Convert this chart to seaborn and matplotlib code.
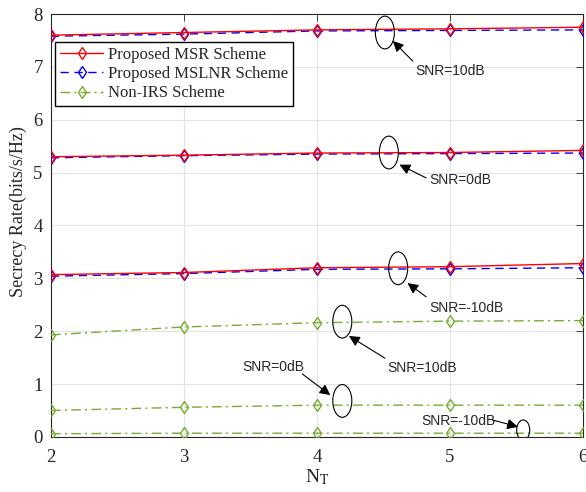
import seaborn as sns
import matplotlib.pyplot as plt
import pandas as pd
from matplotlib.patches import Ellipse

# Data
nt = [2, 3, 4, 5, 6]
snr_levels = ['10dB', '0dB', '-10dB']

msr = {'10dB': [7.60, 7.65, 7.70, 7.72, 7.75],
       '0dB': [5.30, 5.33, 5.37, 5.38, 5.42],
       '-10dB': [3.07, 3.11, 3.20, 3.22, 3.28]}
mslnr = {'10dB': [7.58, 7.62, 7.68, 7.69, 7.70],
         '0dB': [5.28, 5.32, 5.35, 5.36, 5.37],
         '-10dB': [3.04, 3.09, 3.17, 3.18, 3.20]}
non_irs = {'10dB': [1.93, 2.08, 2.16, 2.19, 2.20],
           '0dB': [0.50, 0.56, 0.60, 0.60, 0.60],
           '-10dB': [0.06, 0.07, 0.07, 0.07, 0.07]}

scheme_names = ['Proposed MSR Scheme', 'Proposed MSLNR Scheme', 'Non-IRS Scheme']
scheme_data = [msr, mslnr, non_irs]

rows = []
for name, d in zip(scheme_names, scheme_data):
    for snr in snr_levels:
        for x, y in zip(nt, d[snr]):
            rows.append({'NT': x, 'rate': y, 'scheme': name, 'snr': snr})
df = pd.DataFrame(rows)

# ellipse annotations: (x, y, w, h), text, text pos, arrow start, arrow end
annots = [
    ((4.51, 7.65, 0.143, 0.62), 'SNR=10dB', (5.00, 6.92), (4.72, 7.11), (4.57, 7.49)),
    ((4.54, 5.38, 0.143, 0.62), 'SNR=0dB', (5.08, 4.86), (4.82, 4.90), (4.62, 5.15)),
    ((4.61, 3.19, 0.143, 0.62), 'SNR=-10dB', (5.12, 2.44), (4.82, 2.65), (4.68, 2.91)),
    ((4.19, 2.18, 0.143, 0.62), 'SNR=10dB', (4.79, 1.30), (4.51, 1.49), (4.24, 1.91)),
    ((4.19, 0.68, 0.143, 0.62), 'SNR=0dB', (3.67, 1.33), (3.89, 1.19), (4.10, 0.79)),
    ((5.55, 0.13, 0.098, 0.38), 'SNR=-10dB', (5.06, 0.31), (5.32, 0.32), (5.51, 0.19)),
]

sns.set_style('white')
plt.rcParams['font.family'] = ['Liberation Serif', 'DejaVu Serif']
plt.rcParams['mathtext.fontset'] = 'stix'

fig = plt.figure(figsize=(5.86, 4.92), dpi=100)
ax = fig.add_axes([0.087, 0.112, 0.908, 0.8595])

styles = {
    'Proposed MSR Scheme': dict(color='#ff0000', linestyle='-', zorder=4),
    'Proposed MSLNR Scheme': dict(color='#0000ff', linestyle=(0, (6, 4)), zorder=3),
    'Non-IRS Scheme': dict(color='#77ac30', linestyle=(0, (7, 3, 1.5, 3)), zorder=3),
}

handles = {}
for name in ['Proposed MSLNR Scheme', 'Proposed MSR Scheme', 'Non-IRS Scheme']:
    st = styles[name]
    for i, snr in enumerate(snr_levels):
        sub = df[(df['scheme'] == name) & (df['snr'] == snr)]
        sns.lineplot(data=sub, x='NT', y='rate', ax=ax,
                     color=st['color'], linestyle=st['linestyle'],
                     linewidth=1.0, marker='d', markersize=6.5,
                     markerfacecolor='none', markeredgecolor=st['color'],
                     markeredgewidth=1.0, zorder=st['zorder'],
                     label=name if i == 0 else None, legend=False)
        if i == 0:
            handles[name] = ax.lines[-1]

for (ex, ey, ew, eh), txt, tpos, a0, a1 in annots:
    ax.add_patch(Ellipse((ex, ey), ew, eh, fill=False, edgecolor='black',
                         linewidth=0.8, zorder=5))
    ax.text(tpos[0], tpos[1], txt, fontsize=10, ha='center', va='center',
            family=['Liberation Sans', 'DejaVu Sans'], zorder=6)
    ax.annotate('', xy=a1, xytext=a0,
                arrowprops=dict(arrowstyle='-|>', color='black', lw=0.8,
                                mutation_scale=16, shrinkA=0, shrinkB=0),
                zorder=6)

ax.set_xlim(2, 6)
ax.set_ylim(0, 8)
ax.set_xticks(nt)
ax.set_yticks(range(0, 9))
ax.grid(True, color='#e3e3e3', linewidth=0.8)
ax.set_axisbelow(True)
for s in ax.spines.values():
    s.set_color('#262626')
    s.set_linewidth(0.8)
ax.tick_params(direction='in', length=5, width=0.6, colors='#262626',
               labelsize=13.5, top=True, right=True)
ax.tick_params(axis='x', pad=9)
ax.tick_params(axis='y', pad=6)
ax.set_xlabel(r'N$_{\mathrm{T}}$', fontsize=14, labelpad=1)
ax.set_ylabel('Secrecy Rate(bits/s/Hz)', fontsize=13)
ax.yaxis.set_label_coords(-0.045, 0.532)

ax.legend([handles[n] for n in scheme_names], scheme_names,
          loc='upper left', bbox_to_anchor=(-0.005, 0.95), fontsize=12,
          frameon=True, fancybox=False, edgecolor='black', framealpha=1,
          borderpad=0.3, handlelength=2.6, labelspacing=0.2,
          handletextpad=0.3, borderaxespad=0.4)

fig.savefig('out.png', dpi=100)
